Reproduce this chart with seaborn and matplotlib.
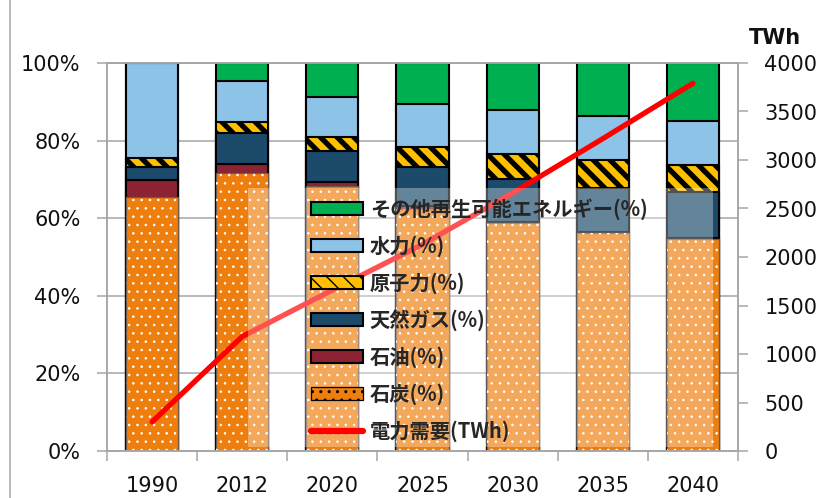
import numpy as np
import matplotlib
matplotlib.use('Agg')
import matplotlib.pyplot as plt
import seaborn as sns
from matplotlib.patches import Patch, Rectangle
from matplotlib.lines import Line2D
from matplotlib.ticker import FuncFormatter, MultipleLocator
from matplotlib.font_manager import FontProperties

# ---------------- data ----------------
years = ['1990', '2012', '2020', '2025', '2030', '2035', '2040']
coal = [65.5, 71.7, 68.2, 62.4, 58.8, 56.3, 54.6]
oil = [4.3, 2.2, 1.2, 0.7, 0.3, 0.2, 0.2]
gas = [3.5, 8.0, 8.0, 10.2, 11.0, 11.4, 12.0]
nuclear = [2.1, 2.8, 3.6, 5.1, 6.4, 7.1, 6.9]
hydro = [24.6, 10.7, 10.3, 11.0, 11.4, 11.3, 11.4]
other = [0.0, 4.6, 8.7, 10.6, 12.1, 13.7, 14.9]
demand = [300, 1180, 1660, 2130, 2660, 3220, 3790]

labels = ['石炭(%)', '石油(%)', '天然ガス(%)', '原子力(%)', '水力(%)',
          'その他再生可能エネルギー(%)']
line_label = '電力需要(TWh)'

# ---------------- style ----------------
sns.set_theme(style='white')
plt.rcParams['font.family'] = ['DejaVu Sans', 'Noto Sans CJK JP']

colors = ['#EE7F0E', '#8B2332', '#1B4A6B', '#FFC000', '#8DC3E6', '#00B050']
edges = ['#6E5A4A', 'black', 'black', 'black', 'black', 'black']
lws = [0.9, 1.5, 1.5, 1.5, 1.5, 1.5]
GRAY = '#A6A6A6'

W, H = 825, 498
fig = plt.figure(figsize=(W / 100, H / 100), dpi=100)
L, R, T, B = 107, 738, 63, 451
ax = fig.add_axes([L / W, 1 - B / H, (R - L) / W, (B - T) / H])

stack = np.array([coal, oil, gas, nuclear, hydro, other])
cum = np.cumsum(stack, axis=0)

for i in reversed(range(6)):
    n0 = len(ax.patches)
    with plt.rc_context({'hatch.linewidth': 3.8 if i == 3 else 0.6}):
        sns.barplot(x=years, y=cum[i], color=colors[i], saturation=1,
                    width=0.58, edgecolor=edges[i], linewidth=lws[i],
                    errorbar=None, ax=ax, zorder=2)
        new = ax.patches[n0:]
        if i == 3:
            for p in new:
                p.set_hatch('\\\\')
        if i == 0:
            for p in list(new):
                r = Rectangle(p.get_xy(), p.get_width(), p.get_height(),
                              facecolor='none', edgecolor='white',
                              linewidth=0, hatch='..', zorder=2.1)
                ax.add_patch(r)

ax.set_xlim(-0.5, 6.5)
ax.set_ylim(0, 100)
ax.yaxis.set_major_locator(MultipleLocator(20))
ax.yaxis.set_major_formatter(FuncFormatter(lambda v, p: f'{v:.0f}%'))
ax.yaxis.grid(True, color=GRAY, lw=1.1)
ax.set_axisbelow(True)
ax.set_xlabel('')
ax.set_ylabel('')
ax.set_xticks(range(len(years)))
ax.set_xticklabels(years)
ax.set_xticks(np.arange(-0.5, len(years), 1), minor=True)
ax.tick_params(axis='x', which='major', length=0, pad=18, labelsize=15,
               labelcolor='#111111')
ax.tick_params(axis='x', which='minor', length=7, color=GRAY, width=1.1,
               bottom=True)
ax.tick_params(axis='y', which='major', length=7, color=GRAY, width=1.1,
               left=True, direction='out', pad=12, labelsize=15,
               labelcolor='#111111')
for s in ax.spines.values():
    s.set_color(GRAY)
    s.set_linewidth(1.1)

# ---------------- demand line ----------------
ax2 = ax.twinx()
sns.lineplot(x=np.arange(len(years)), y=demand, ax=ax2, color='#FF0000',
             linewidth=3.8, zorder=3, solid_capstyle='round')
ax2.set_ylim(0, 4000)
ax2.set_xlim(-0.5, 6.5)
ax2.yaxis.set_major_locator(MultipleLocator(500))
ax2.tick_params(axis='y', which='major', length=7, color=GRAY, width=1.1,
                right=True, direction='out', pad=12, labelsize=15,
                labelcolor='#111111')
ax2.set_ylabel('')
for s in ax2.spines.values():
    s.set_color(GRAY)
    s.set_linewidth(1.1)

# translucent legend area
x0, x1 = (248 - L) / (R - L), (713 - L) / (R - L)
y0, y1 = (B - 447) / (B - T), (B - 188) / (B - T)
ax2.add_patch(Rectangle((x0, y0), x1 - x0, y1 - y0, transform=ax2.transAxes,
                        facecolor='white', alpha=0.32, edgecolor='none',
                        zorder=4))

# legend
with plt.rc_context({'hatch.linewidth': 3.8}):
    nuc_h = Patch(facecolor=colors[3], edgecolor='black', linewidth=1.5,
                  hatch='\\\\')
with plt.rc_context({'hatch.linewidth': 0.6}):
    coal_h = Patch(facecolor=colors[0], edgecolor='black', linewidth=0.9,
                   hatch='..')
handles = [Patch(facecolor=colors[5], edgecolor='black', linewidth=1.5),
           Patch(facecolor=colors[4], edgecolor='black', linewidth=1.5),
           nuc_h,
           Patch(facecolor=colors[2], edgecolor='black', linewidth=1.5),
           Patch(facecolor=colors[1], edgecolor='black', linewidth=1.5),
           coal_h,
           Line2D([], [], color='#FF0000', lw=4.5, solid_capstyle='round')]
leg_labels = [labels[5], labels[4], labels[3], labels[2], labels[1],
              labels[0], line_label]
fp = FontProperties(family=['Noto Sans CJK JP', 'DejaVu Sans'],
                    weight='bold', size=14.6)
leg = ax2.legend(handles, leg_labels, loc='upper left',
                 bbox_to_anchor=((311 - L) / (R - L), (B - 198) / (B - T)),
                 frameon=False, prop=fp, handlelength=2.55, handleheight=0.6,
                 labelspacing=0.76, handletextpad=0.35, borderpad=0,
                 borderaxespad=0)
leg.set_zorder(5)

fig.text(775 / W, 1 - 38 / H, 'TWh', ha='center', va='center', fontsize=15,
         fontweight='bold', color='#111111')
fig.add_artist(Line2D([9.5 / W, 9.5 / W], [0, 1], color=GRAY, lw=1.1,
                      transform=fig.transFigure))

fig.savefig('out.png', dpi=100)
